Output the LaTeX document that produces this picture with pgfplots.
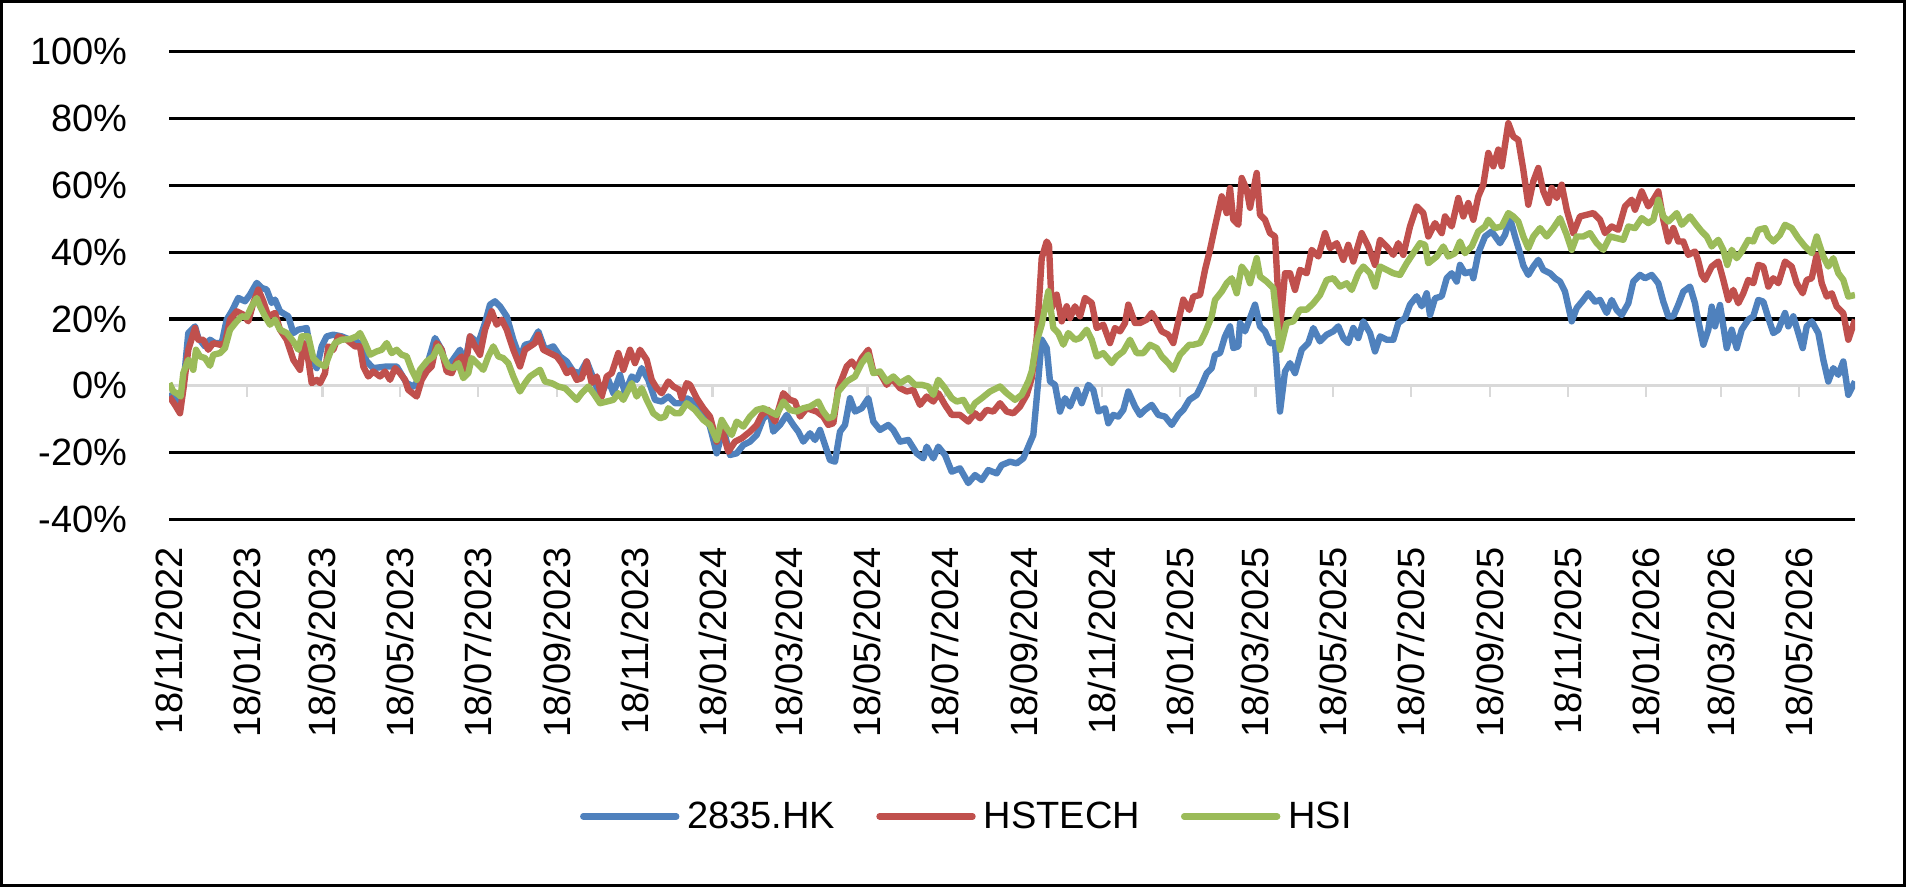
\documentclass[border=0pt]{standalone}
\usepackage{fontspec}
\setmainfont{Liberation Sans}
\usepackage{pgfplots}
\pgfplotsset{compat=1.18}
\definecolor{sblue}{HTML}{4F81BD}
\definecolor{sred}{HTML}{C0504D}
\definecolor{sgreen}{HTML}{9BBB59}
\definecolor{grayline}{HTML}{D9D9D9}
\begin{document}
\begin{tikzpicture}
\path[use as bounding box] (0,0) rectangle (953pt,443.5pt);
\draw[line width=1.5pt] (0.75pt,0.75pt) rectangle (952.25pt,442.75pt);
\begin{axis}[
  at={(84.5pt,183.75pt)}, anchor=south west,
  scale only axis, width=843pt, height=233.9pt,
  xmin=169, xmax=1855, ymin=-40, ymax=100,
  axis line style={draw=none},
  major tick length=0pt,
  ytick={-40,-20,0,20,40,60,80,100},
  yticklabel={\pgfmathprintnumber{\tick}\%},
  /pgf/number format/assume math mode=true,
  ymajorgrids, major grid style={black, line width=1.55pt},
  xtick={169,246.9,322.2,400.0,477.9,557.0,634.9,712.7,789.3,867.2,945.0,1024.2,1102.0,1179.9,1255.2,1333.1,1410.9,1490.1,1567.9,1645.8,1721.1,1799.0},
  xticklabels={18/11/2022,18/01/2023,18/03/2023,18/05/2023,18/07/2023,18/09/2023,18/11/2023,18/01/2024,18/03/2024,18/05/2024,18/07/2024,18/09/2024,18/11/2024,18/01/2025,18/03/2025,18/05/2025,18/07/2025,18/09/2025,18/11/2025,18/01/2026,18/03/2026,18/05/2026},
  tick label style={font=\fontsize{19}{22}\selectfont},
  yticklabel style={anchor=east, inner sep=0pt, xshift=-20.5pt},
  xticklabel style={yshift=-13.75pt, rotate=90, anchor=east, inner sep=0pt},
  legend columns=3,
  legend cell align=left,
  legend image code/.code={\draw[#1, line width=3.2pt, line cap=round] (0pt,0pt) -- (46.5pt,0pt);},
  legend style={at={(0.2438,-0.6347)}, anchor=west, draw=none, fill=none,
    inner sep=0pt, outer sep=0pt, font=\fontsize{19}{22}\selectfont,
    nodes={inner sep=0pt},
    /tikz/every odd column/.append style={column sep=4pt},
    /tikz/every even column/.append style={column sep=20.5pt}},
]
\draw[grayline, line width=1.5pt] (axis cs:169,0) -- (axis cs:1855,0);
\pgfplotsinvokeforeach{169,246.9,322.2,400.0,477.9,557.0,634.9,712.7,789.3,867.2,945.0,1024.2,1102.0,1179.9,1255.2,1333.1,1410.9,1490.1,1567.9,1645.8,1721.1,1799.0}{
  \draw[grayline, line width=1.3pt] (axis cs:#1,0) -- ([yshift=-5.5pt]axis cs:#1,0);
}
% 2835.HK
\addplot[color=sblue, line width=3.2pt, line join=round] table {
169.3 -2.2
175 -4.2
180 -6.2
183.3 -0.2
188.3 15.8
195 17.8
198.3 14.3
205 11.8
210 13.8
215 12.8
221.7 12.8
226.7 19.8
231.7 22.3
238.3 26.3
245 25.3
250 27.3
256.7 30.8
261.7 29.3
266.7 28.8
271.7 24.8
275 25.8
280 22.3
288.3 20.8
293.3 15.8
298.3 16.8
306.7 17.3
311.7 7.8
316.7 5.3
321.7 11.8
326.7 14.8
333.3 15.3
341.7 14.8
350 13.8
360 12.8
366.7 7.3
373.3 5.3
386.7 5.8
396.7 5.8
406.7 0.8
413.3 -0.2
420 2.2
426.7 5.8
435 14.3
441.7 10.8
446.7 4.8
451.7 7.3
460 10.8
465 6.8
470 14.8
478.3 12.8
485 18.8
490 24.3
495 25.3
500 23.8
506.7 20.8
513.3 13.8
520 8.3
525 12.3
531.7 12.8
538.3 16.3
545 10.8
553.3 11.8
560 8.8
566.7 7.3
573.3 4.3
580 3.8
586.7 7.3
593.3 2.3
600 -3.2
608.3 1.8
613.3 -2.2
620 3.3
625 -2.2
631.7 2.8
636.7 1.8
641.7 5.3
648.3 1.8
655 -4.2
661.7 -4.7
668.3 -3.2
675 -5.2
680 -5.2
686.7 -3.7
690 -4.2
696.7 -5.2
703.3 -7.7
710 -12.2
716.7 -20.2
723.3 -12.7
730 -20.7
736.7 -20.2
743.3 -17.7
750 -16.7
756.7 -14.7
763.3 -9.7
770 -8.2
773.3 -13.7
780 -11.7
786.7 -8.7
793.3 -11.7
798.3 -13.7
803.3 -16.7
810 -14.2
815 -16.2
820 -13.2
825 -17.7
830 -22.2
835 -22.7
840 -13.7
845 -11.7
850 -3.7
855 -7.7
861.7 -6.7
868.3 -3.7
873.3 -10.7
880 -13.2
888.3 -11.7
893.3 -13.2
900 -16.7
908.3 -16.2
916.7 -20.2
923.3 -21.7
926.7 -18.2
933.3 -21.7
938.3 -18.2
945 -20.7
951.7 -25.7
960 -24.7
968.3 -29.1
975 -26.7
981.7 -28.2
988.3 -25.2
996.7 -26.2
1001.7 -23.7
1010 -22.7
1016.7 -23.2
1023.3 -21.7
1028.3 -18.2
1033.3 -14.7
1036.7 -3.7
1041.7 13.8
1046.7 11.3
1050 1.3
1055 0.3
1060 -7.7
1065 -3.7
1070 -6.2
1076.7 -1.2
1081.7 -5.2
1088.3 0.3
1093.3 -1.2
1098.3 -7.7
1105 -6.7
1108.3 -11.2
1113.3 -8.7
1118.3 -9.2
1123.3 -7.2
1128.3 -1.7
1135 -6.2
1140 -8.7
1145 -7.2
1151.7 -5.7
1158.3 -8.7
1165 -9.2
1171.7 -11.7
1178.3 -8.7
1183.3 -7.2
1189.3 -4.2
1196.7 -2.7
1201.7 0.3
1206.7 3.8
1211.7 5.3
1215 9.3
1220 9.8
1225 14.8
1230 17.8
1233.3 11.3
1238.3 11.8
1240 18.8
1245 16.3
1250 20.3
1255 24.3
1260 17.8
1265 16.3
1270 12.8
1275 12.8
1280 -7.7
1285 4.3
1290 6.8
1295 3.8
1301.7 10.8
1308.3 12.8
1313.3 17.3
1320 13.3
1326.7 15.3
1333.3 16.3
1338.3 17.8
1343.3 14.3
1348.3 12.8
1353.3 17.3
1358.3 14.3
1363.3 19.3
1370 15.8
1375 10.3
1380 14.8
1386.7 13.8
1393.3 13.8
1398.3 18.8
1405 20.3
1410 24.3
1416.7 26.8
1421.7 23.8
1426.7 27.7
1430 21.2
1435 26.2
1441.7 26.8
1446.7 32.2
1451.7 33.7
1456.7 31.2
1460 36.2
1465 33.7
1471.7 34.2
1473.3 32.2
1478.3 39.7
1485 44.7
1491.7 46.2
1500 42.7
1505 45.2
1510 50.2
1515 44.7
1520 39.7
1523.3 36.0
1528.3 33.2
1533.3 35.7
1538.3 37.7
1543.3 34.7
1550 33.7
1555 32.2
1560 31.2
1565 28.2
1568.3 23.8
1571.7 19.3
1576.7 23.3
1583.3 25.7
1588.3 27.7
1595 25.2
1600 25.7
1606.7 21.8
1611.7 25.7
1616.7 22.7
1621.7 21.2
1628.3 24.7
1633.3 31.2
1640 33.2
1645 32.2
1651.7 33.2
1658.3 30.7
1663.3 25.2
1668.3 20.8
1673.3 20.8
1678.3 24.3
1683.3 28.2
1690 29.7
1695 24.7
1696.7 21.8
1703.3 12.3
1708.3 16.8
1711.7 23.7
1715 17.8
1720 24.2
1726.7 11.3
1731.7 16.8
1736.7 11.3
1741.7 16.8
1748.3 19.8
1753.3 20.8
1758.3 25.7
1763.3 25.2
1768.3 20.3
1773.3 15.8
1778.3 16.8
1785 21.8
1788.3 17.8
1793.3 20.8
1798.3 15.8
1802.7 11.3
1806.7 17.8
1811.7 19.3
1818.3 15.8
1823.3 7.8
1828.3 1.3
1833.3 5.3
1838.3 3.3
1843.3 7.3
1848.3 -2.7
1855 1.3
};
\addlegendentry{2835.HK}
% HSTECH
\addplot[color=sred, line width=3.2pt, line join=round] table {
169.3 -3.2
175 -5.7
180 -8.2
183.3 -1.2
188.3 10.8
195 17.3
198.3 13.8
203.3 13.8
208.3 10.8
213.3 12.8
220 12.3
225 12.8
230 19.8
236.7 22.3
243.3 21.3
248.3 19.3
253.3 24.8
258.3 28.8
263.3 25.3
268.3 20.8
275 21.8
280 16.8
286.7 13.8
293.3 7.8
300 4.8
303.3 12.8
308.3 7.8
311.7 0.8
316.7 1.8
320 0.8
325 3.8
328.3 11.8
333.3 10.8
338.3 14.8
346.7 13.8
355 11.8
360 11.8
363.3 5.8
368.3 2.8
373.3 4.3
380 2.8
385 4.3
390 1.8
395 5.3
400 3.8
405 1.8
408.3 -1.2
416.7 -3.2
421.7 1.8
426.7 4.3
431.7 5.8
436.7 12.8
441.7 10.8
446.7 4.3
451.7 3.8
456.7 7.3
461.7 8.8
465 4.8
470 14.8
475 11.8
480 9.3
485 16.8
491.7 22.3
496.7 18.3
501.7 19.8
506.7 16.8
513.3 10.8
520 5.8
525 10.8
530 11.8
535 12.8
538.3 15.3
543.3 10.8
550 9.8
556.7 8.8
561.7 6.8
566.7 3.8
571.7 4.8
576.7 1.8
581.7 2.3
586.7 7.3
591.7 0.8
596.7 2.8
601.7 -3.2
606.7 2.8
611.7 3.8
618.3 9.8
623.3 4.8
630 10.8
635 6.8
640 10.8
646.7 7.8
651.7 1.8
656.7 -0.7
661.7 -2.2
668.3 1.3
673.3 -0.2
679.3 -1.2
681.7 -3.7
686.7 0.8
690 0.3
696.7 -3.7
703.3 -6.7
710 -9.2
716.7 -16.7
721.7 -12.7
728.3 -19.7
735 -16.7
741.7 -15.7
750 -13.7
756.7 -11.7
761.7 -8.7
768.3 -7.2
775 -10.7
783.3 -2.2
790 -4.2
795 -4.7
800 -9.2
806.7 -6.7
816.7 -7.7
823.3 -9.2
828.3 -11.7
833.3 -11.2
838.3 -0.7
846.7 5.8
851.7 7.3
856.7 5.3
861.7 8.3
868.3 10.8
873.3 4.3
880 3.8
886.7 0.3
891.7 2.3
900 -0.7
906.7 -1.7
913.3 -1.2
920 -5.7
926.7 -3.2
933.3 -4.7
938.3 -2.2
945 -5.7
951.7 -8.7
960 -8.7
968.3 -10.7
975 -8.2
980 -9.7
986.7 -7.2
993.3 -7.7
1000 -5.2
1006.7 -7.7
1013.3 -8.2
1020 -6.2
1026.7 -2.7
1031.7 2.3
1036.7 14.3
1041.7 38.2
1046.7 43.2
1049 42
1051.7 23.3
1056.7 27.3
1061.7 19.3
1066.7 23.8
1070 20.3
1075 23.8
1080 20.8
1085 26.3
1091.7 24.8
1096.7 17.3
1103.3 18.3
1110 12.8
1115 17.3
1120 16.3
1125 18.8
1128.3 24.3
1135 18.8
1140 18.8
1146.7 19.8
1151.7 21.8
1156.7 19.3
1161.7 16.3
1168.3 15.3
1173.3 12.8
1178.3 19.3
1183.3 25.8
1189.3 22.7
1193.3 26.7
1200 27.2
1205 34.7
1210 40.7
1215 47.7
1221.7 56.7
1226.7 51.7
1230 59.2
1233.3 49.7
1238.3 48.2
1241.7 62.2
1246.7 58.7
1250 53.3
1256.7 63.7
1260 51.2
1265 49.7
1270 45.7
1275 44.7
1280 16.8
1285 33.7
1290 33.7
1295 28.7
1300 34.7
1306.7 33.7
1311.7 40.7
1318.3 38.7
1325 45.7
1330 41.2
1336.7 42.7
1343.3 37.7
1348.3 42.2
1353.3 37.2
1361.7 45.7
1368.3 41.7
1375 36.2
1380 43.7
1386.7 41.7
1393.3 39.2
1398.3 42.7
1403.3 39.2
1410 47.7
1416.7 53.7
1423.3 51.7
1428.3 44.7
1435 48.7
1441.7 45.7
1445 50.7
1451.7 47.7
1458.3 56.2
1463.3 50.7
1468.3 54.7
1473.3 49.7
1478.3 56.7
1483.3 60.2
1488.3 69.7
1493.3 65.7
1498.3 70.7
1501.7 65.7
1508.3 78.6
1513.3 74.6
1518.3 73.6
1523.3 64.7
1528.3 54.2
1533.3 61.2
1538.3 65.2
1543.3 58.2
1548.3 54.7
1551.7 59.2
1556.7 56.2
1561.7 60.2
1566.7 52.7
1573.3 45.7
1580 50.7
1586.7 51.2
1593.3 51.7
1600 49.7
1605 45.7
1611.7 47.7
1618.3 46.7
1625 53.7
1631.7 55.7
1635 52.7
1641.7 58.2
1648.3 53.7
1653.3 55.7
1658.3 58.2
1663.3 49.7
1668.3 43.2
1673.3 47.2
1678.3 43.2
1683.3 43.2
1688.3 39.2
1695 40.2
1698 37.7
1701.7 33.2
1705 31.7
1711.7 35.7
1718.3 37.2
1723.3 31.7
1728.3 25.7
1733.3 28.7
1738.3 24.7
1743.3 27.7
1748.3 31.7
1753.3 30.7
1758.3 36.2
1763.3 35.7
1768.3 29.7
1773.3 32.2
1778.3 30.7
1785 37.2
1791.7 35.7
1796.7 30.7
1802.7 27.7
1806.7 31.7
1811.7 32.2
1816.7 39.2
1821.7 30.7
1826.7 26.7
1831.7 27.7
1836.7 23.7
1843.3 21.7
1848.3 13.8
1855 19.8
};
\addlegendentry{HSTECH}
% HSI
\addplot[color=sgreen, line width=3.2pt, line join=round] table {
169.3 0.8
173.3 -1.7
176.7 -2.2
180.7 -3.2
183.3 3.8
188.3 7.8
193.3 4.8
196 10.8
200 8.8
205 8.3
210 6
213.3 9.3
220 9.8
225 11.3
230 16.8
236.7 19.3
241.7 20.8
246.7 20.6
251.7 23.8
256.7 26.3
260 23.8
265 20.8
270 18.3
275 19.8
280 16.8
286.7 15.8
293.3 13.3
298.3 10.8
301.7 14.8
308.3 14.8
313.3 8.3
318.3 6.8
325 5.8
330 9.8
335 12.8
341.7 13.8
350 14
356.7 14.8
360 15.8
365 12.8
370 9.3
376.7 10.3
381.7 10.8
386.7 12.8
391.7 9.8
396.7 10.8
401.7 9.3
406.7 8.8
411.7 4.8
416.7 1.8
420 4.8
426.7 7.3
433.3 8.8
438.3 11.8
443.3 8.8
448.3 5.8
453.3 5.3
458.3 6.8
463.3 2.3
468.3 3.8
471.7 8.3
476.7 6.8
483.3 4.8
488.3 8.8
493.3 11.8
498.3 8.8
503.3 8.3
508.3 6.8
513.3 2.8
520 -1.7
525 0.8
530 2.8
535 3.8
540 4.8
545 1.3
551.7 0.8
558.3 -0.2
565 -0.7
570 -2.2
576.7 -4.2
581.7 -2.2
588.3 -0.2
593.3 -2.2
600 -5.2
606.7 -4.7
613.3 -4.2
618.3 -2.2
623.3 -4.2
631.7 0.8
636.7 -3.2
641.7 -0.7
646.7 -4.2
653.3 -8.2
660 -9.7
665 -9.2
668.3 -6.7
675 -8.2
680 -8.2
686.7 -5.2
695 -7.2
703.3 -10.2
710 -11.7
716.7 -16.2
721.7 -10.2
726.7 -12.7
731.7 -14.7
736.7 -10.7
743.3 -12.2
750 -9.2
756.7 -7.2
763.3 -6.7
770 -7.7
776.7 -8.7
783.3 -4.7
790 -7.2
796.7 -7.7
803.3 -6.7
810 -6.2
818.3 -4.7
823.3 -7.7
828.3 -9.7
833.3 -9.2
838.3 -1.7
846.7 1.3
855 2.8
861.7 6.8
868.3 9.3
873.3 3.8
880 4.3
886.7 1.3
893.3 2.8
900 0.8
908.3 2.3
915 0.3
921.7 0.3
928.3 -0.2
933.3 -2.7
938.3 1.8
945 -0.7
951.7 -3.7
956.7 -4.7
963.3 -4.2
970 -7.7
975 -5.2
981.7 -3.7
990 -1.7
1000 -0.2
1006.7 -2.2
1015 -4.2
1021.7 -2.7
1028.3 1.3
1031.7 4.3
1036.7 13.3
1041.7 18.3
1048.3 28.3
1053.3 17.3
1058.3 15.8
1063.3 12.3
1068.3 15.8
1075 13.8
1080 14.3
1086.7 16.8
1091.7 13.8
1096.7 8.8
1103.3 9.8
1111.7 6.8
1116.7 8.8
1123.3 10.3
1130 13.8
1136.7 9.8
1143.3 9.8
1150 12.3
1156.7 11.3
1161.7 8.8
1168.3 6.8
1173.3 4.8
1180 9.3
1189.3 12.3
1193.3 12.3
1200 12.8
1205 15.8
1211.7 20.8
1215 25.7
1221.7 28.2
1226.7 30.7
1231.7 32.2
1236.7 27.7
1241.7 35.7
1246.7 33.7
1250 30.7
1256.7 38.2
1260 32.7
1266.7 31.2
1273.3 29.2
1280 10.8
1286.7 18.8
1293.3 19.3
1300 22.8
1306.7 22.8
1313.3 24.7
1320 27.2
1326.7 31.7
1333.3 32.2
1340 29.7
1346.7 30.7
1351.7 28.7
1358.3 33.7
1363.3 35.7
1370 33.7
1375 29.7
1380 35.7
1386.7 34.7
1393.3 33.7
1400 33.2
1406.7 36.7
1413.3 39.7
1420 42.7
1425 42.2
1428.3 36.7
1436.7 38.7
1443.3 41.7
1448.3 38.7
1455 39.7
1460 43.2
1465 39.7
1471.7 41.7
1478.3 46.2
1485 47.7
1488.3 49.7
1495 47.2
1501.7 47.7
1508.3 51.7
1513.3 50.7
1518.3 49.2
1523.3 44.7
1528.3 41.2
1533.3 44.7
1540 47.2
1546.7 44.7
1553.3 47.2
1560 50.2
1566.7 45.2
1571.7 40.7
1576.7 44.7
1583.3 44.7
1590 45.7
1596.7 42.7
1603.3 40.7
1610 44.7
1616.7 44.2
1623.3 43.7
1628.3 47.7
1635 47.2
1641.7 50.2
1648.3 48.7
1653.3 49.7
1658.3 55.7
1663.3 50.7
1668.3 49.2
1676.7 51.7
1681.7 48.2
1690 50.7
1695 48.7
1701.7 46.2
1706.7 44.7
1711.7 41.7
1718.3 43.7
1723.3 40.7
1727.3 36.2
1731.7 40.7
1736.7 38.2
1741.7 40.2
1748.3 43.7
1753.3 43.2
1758.3 46.7
1765 47.2
1768.3 44.7
1773.3 43.2
1780 45.2
1785 48.2
1791.7 47.2
1798.3 44.2
1805 41.7
1811.7 39.7
1816.7 44.7
1823.3 38.7
1828.3 35.7
1833.3 38.2
1838.3 33.7
1843.3 31.7
1848.3 26.7
1855 27.2
};
\addlegendentry{HSI}
\end{axis}
\end{tikzpicture}
\end{document}
